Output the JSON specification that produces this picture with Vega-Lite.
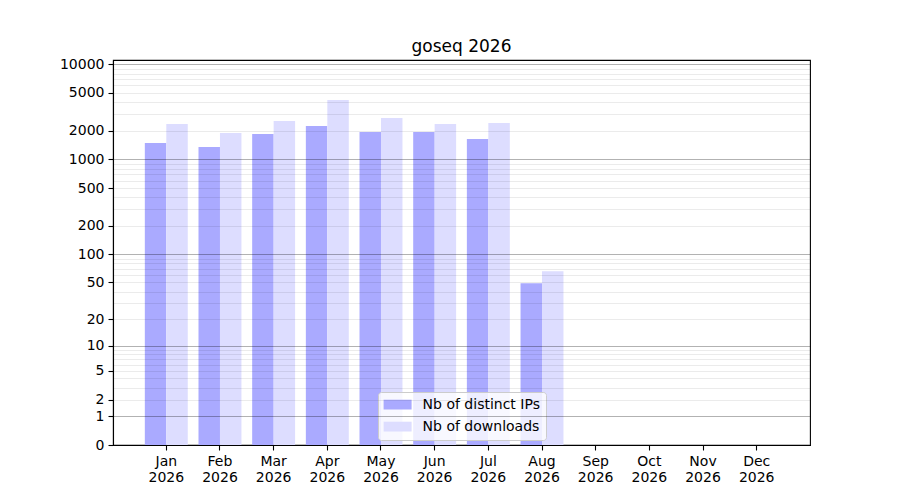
{
  "$schema": "https://vega.github.io/schema/vega-lite/v6.json",
  "width": 697,
  "height": 385,
  "autosize": {"type": "none"},
  "padding": {"left": 113, "top": 60, "right": 90, "bottom": 55},
  "background": "white",
  "title": {"text": "goseq 2026", "fontSize": 17, "font": "DejaVu Sans", "fontWeight": "normal", "color": "black", "offset": -16, "baseline": "bottom"},
  "config": {
    "font": "DejaVu Sans",
    "view": {"stroke": "black", "strokeWidth": 1.1},
    "axis": {"labelFont": "DejaVu Sans", "labelFontSize": 14, "labelColor": "black", "domainColor": "black", "domainWidth": 1.1, "tickColor": "black", "tickWidth": 1.1, "tickSize": 5, "labelPadding": 4, "title": null},
    "legend": {"labelFontSize": 14, "labelFont": "DejaVu Sans", "labelColor": "black"}
  },
  "data": {
    "values": [
      {"month": "Jan 2026", "series": "Nb of distinct IPs", "value": 1490},
      {"month": "Jan 2026", "series": "Nb of downloads", "value": 2360},
      {"month": "Feb 2026", "series": "Nb of distinct IPs", "value": 1353},
      {"month": "Feb 2026", "series": "Nb of downloads", "value": 1898},
      {"month": "Mar 2026", "series": "Nb of distinct IPs", "value": 1853},
      {"month": "Mar 2026", "series": "Nb of downloads", "value": 2541},
      {"month": "Apr 2026", "series": "Nb of distinct IPs", "value": 2248},
      {"month": "Apr 2026", "series": "Nb of downloads", "value": 4215},
      {"month": "May 2026", "series": "Nb of distinct IPs", "value": 1946},
      {"month": "May 2026", "series": "Nb of downloads", "value": 2731},
      {"month": "Jun 2026", "series": "Nb of distinct IPs", "value": 1946},
      {"month": "Jun 2026", "series": "Nb of downloads", "value": 2360},
      {"month": "Jul 2026", "series": "Nb of distinct IPs", "value": 1642},
      {"month": "Jul 2026", "series": "Nb of downloads", "value": 2417},
      {"month": "Aug 2026", "series": "Nb of distinct IPs", "value": 49},
      {"month": "Aug 2026", "series": "Nb of downloads", "value": 66}
    ]
  },
  "mark": {"type": "bar"},
  "encoding": {
    "x": {
      "field": "month", "type": "nominal",
      "scale": {"domain": ["Jan 2026","Feb 2026","Mar 2026","Apr 2026","May 2026","Jun 2026","Jul 2026","Aug 2026","Sep 2026","Oct 2026","Nov 2026","Dec 2026"], "paddingInner": 0.2, "paddingOuter": 0.593},
      "axis": {"labelAngle": 0, "labelExpr": "split(datum.label, ' ')", "labelLineHeight": 16, "grid": false, "labelBaseline": "top"}
    },
    "xOffset": {"field": "series", "type": "nominal", "scale": {"domain": ["Nb of distinct IPs", "Nb of downloads"]}},
    "y": {
      "field": "value", "type": "quantitative",
      "scale": {"type": "symlog", "constant": 1, "domain": [0, 11100], "nice": false},
      "axis": {
        "zindex": 1,
        "values": [0,1,2,3,4,5,6,7,8,9,10,20,30,40,50,60,70,80,90,100,200,300,400,500,600,700,800,900,1000,2000,3000,4000,5000,6000,7000,8000,9000,10000],
        "format": "d",
        "labelExpr": "indexof([0,1,2,5,10,20,50,100,200,500,1000,2000,5000,10000], datum.value) >= 0 ? datum.label : ''",
        "grid": true,
        "gridColor": "black",
        "gridWidth": 1,
        "gridOpacity": {"condition": {"test": "indexof([1,10,100,1000,10000], datum.value) >= 0", "value": 0.3}, "value": 0.08},
        "tickOpacity": {"condition": {"test": "indexof([0,1,2,5,10,20,50,100,200,500,1000,2000,5000,10000], datum.value) >= 0", "value": 1}, "value": 0},
        "labelOverlap": false,
        "labelBound": false
      }
    },
    "color": {
      "field": "series", "type": "nominal",
      "scale": {"domain": ["Nb of distinct IPs", "Nb of downloads"], "range": ["#aaaaff", "#ddddff"]},
      "legend": {
        "title": null,
        "orient": "none",
        "legendX": 265,
        "legendY": 332,
        "fillColor": "rgba(255,255,255,0.8)",
        "strokeColor": "#cccccc",
        "cornerRadius": 3,
        "padding": 5.6,
        "rowPadding": 8,
        "labelFontSize": 14,
        "labelOffset": 25,
        "symbolType": "M-1,-0.7H3V0.7H-1Z",
        "symbolSize": 196,
        "symbolStrokeWidth": 0,
        "symbolOpacity": 1
      }
    }
  }
}
